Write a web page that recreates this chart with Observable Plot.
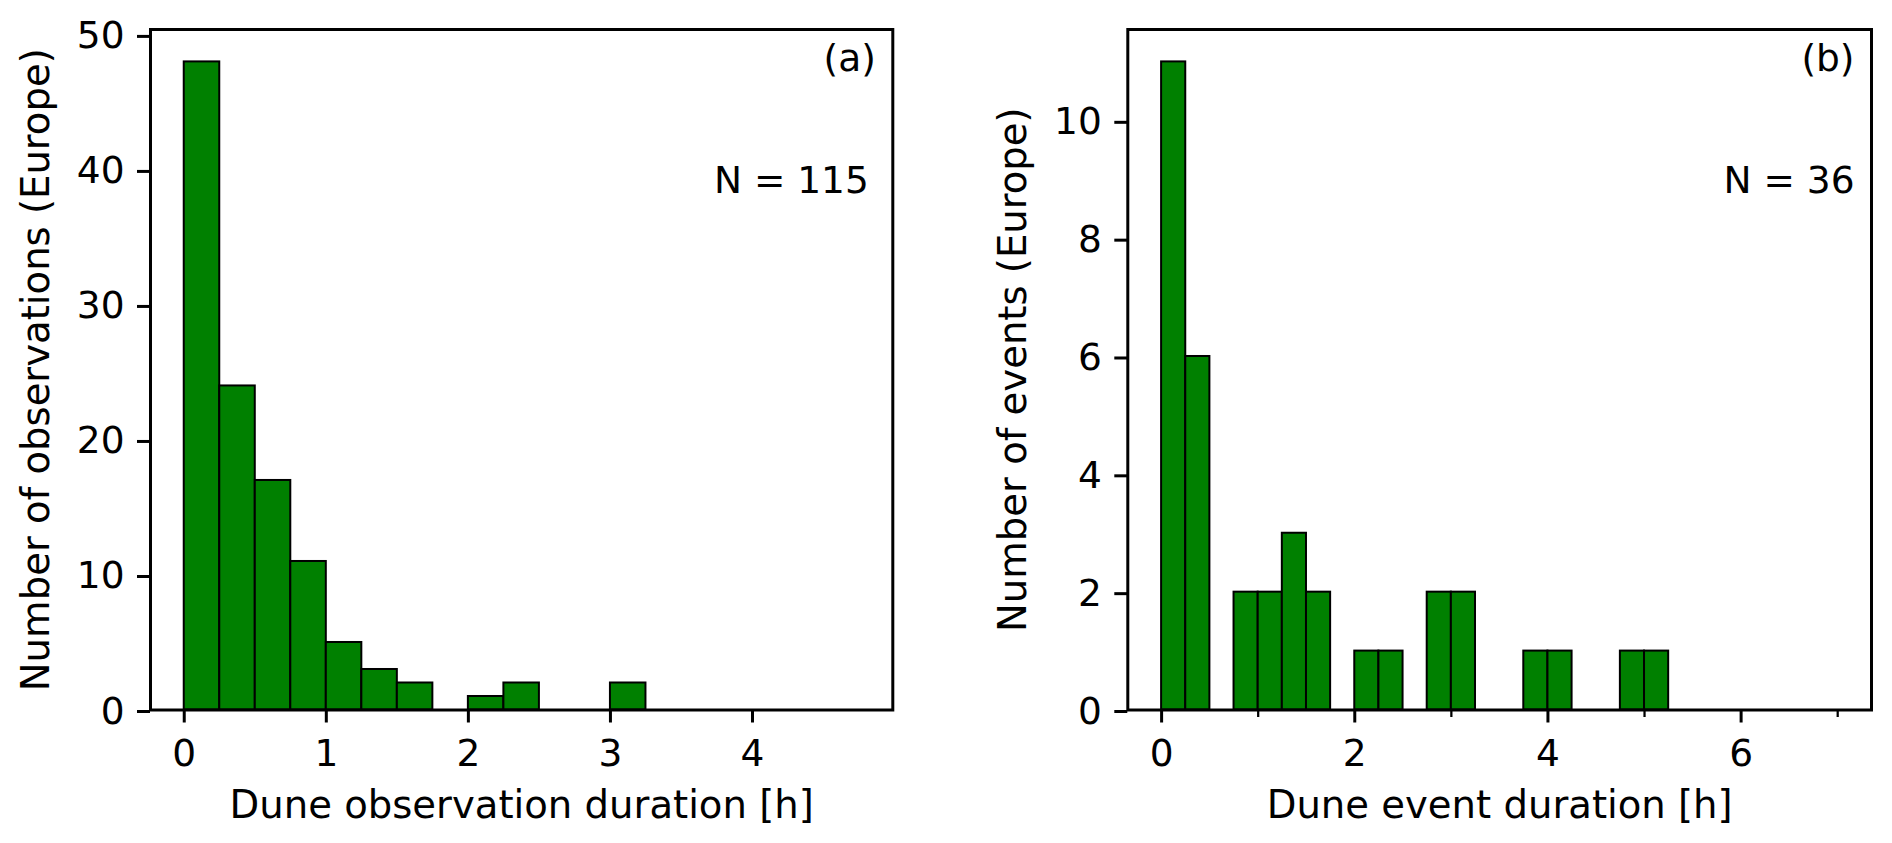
<!DOCTYPE html>
<html>
<head>
<meta charset="utf-8">
<script src="https://cdn.jsdelivr.net/npm/d3@7"></script>
<script src="https://cdn.jsdelivr.net/npm/@observablehq/plot@0.6"></script>
<style>
  html, body { margin: 0; padding: 0; background: #ffffff; }
  #wrap { display: flex; width: 1892px; height: 843px; }
  #wrap > div { width: 946px; height: 843px; }
</style>
</head>
<body>
<div id="wrap"><div id="pa"></div><div id="pb"></div></div>
<script>
// ---- Data ----
const binWidth = 0.25;

// Panel (a): dune observation duration
const binStartsA = [0, 0.25, 0.5, 0.75, 1.0, 1.25, 1.5, 1.75, 2.0, 2.25, 2.5, 2.75, 3.0];
const countsA    = [48, 24,   17,  11,   5,   3,    2,   0,    1,   2,    0,   0,    2];
const xTicksA = [0, 1, 2, 3, 4];
const yTicksA = [0, 10, 20, 30, 40, 50];
const xDomainA = [-0.2375, 4.9875];
const yDomainA = [0, 50.4];
const xLabelA = "Dune observation duration [h]";
const yLabelA = "Number of observations (Europe)";
const tagA = "(a)";
const nA = "N = 115";

// Panel (b): dune event duration
const binStartsB = [0, 0.25, 0.5, 0.75, 1.0, 1.25, 1.5, 1.75, 2.0, 2.25, 2.5, 2.75, 3.0, 3.25, 3.5, 3.75, 4.0, 4.25, 4.5, 4.75, 5.0];
const countsB    = [11, 6,   0,   2,    2,   3,    2,   0,    1,   1,    0,   2,    2,   0,    0,   1,    1,   0,    0,   1,    1];
const xTicksB = [0, 2, 4, 6];
const xMinorTicksB = [1, 3, 5, 7];
const yTicksB = [0, 2, 4, 6, 8, 10];
const xDomainB = [-0.35, 7.35];
const yDomainB = [0, 11.55];
const xLabelB = "Dune event duration [h]";
const yLabelB = "Number of events (Europe)";
const tagB = "(b)";
const nB = "N = 36";

const FONT = "DejaVu Sans";
const FS = 37.5;
const FS_TITLE = 38.6;

function panel({binStarts, counts, xTicks, xMinor, yTicks, xDomain, yDomain, xLabel, yLabel, tag, nText, marginLeft, marginRight, tagDx, nDx}) {
  const bars = binStarts.map((b, i) => ({x1: b, x2: b + binWidth, count: counts[i]})).filter(d => d.count > 0);
  const marks = [
    Plot.rectY(bars, {x1: "x1", x2: "x2", y1: 0, y2: "count", fill: "#008000", stroke: "#000000", strokeWidth: 2}),
    Plot.axisX(xTicks, {tickSize: 13, tickPadding: 16, strokeWidth: 3, fontSize: FS, tickFormat: d => String(d), label: null}),
    Plot.axisY(yTicks, {tickSize: 13, tickPadding: 13, strokeWidth: 3, fontSize: FS, tickFormat: d => String(d), label: null, dy: 1.5}),
    Plot.text([xLabel], {text: d => d, frameAnchor: "bottom", dy: 108, textAnchor: "middle", lineAnchor: "bottom", fontSize: FS_TITLE}),
    Plot.text([yLabel], {text: d => d, frameAnchor: "left", rotate: -90, dx: -129, textAnchor: "middle", lineAnchor: "top", fontSize: FS_TITLE}),
    Plot.text([tag], {text: d => d, frameAnchor: "top-right", dx: tagDx, dy: 29, textAnchor: "end", lineAnchor: "middle", fontSize: FS}),
    Plot.text([nText], {text: d => d, frameAnchor: "top-right", dx: nDx, dy: 151, textAnchor: "end", lineAnchor: "middle", fontSize: FS}),
    Plot.frame({stroke: "#000000", strokeWidth: 3})
  ];
  if (xMinor) {
    marks.push(Plot.axisX(xMinor, {tickSize: 7.5, tickPadding: 0, strokeWidth: 2.25, tickFormat: () => "", label: null}));
  }
  return Plot.plot({
    width: 946,
    height: 843,
    marginTop: 29,
    marginBottom: 133.5,
    marginLeft,
    marginRight,
    style: {fontFamily: FONT, fontSize: FS + "px", color: "#000000", background: "#ffffff", overflow: "visible"},
    x: {domain: xDomain, nice: false},
    y: {domain: yDomain, nice: false},
    marks
  });
}

document.getElementById("pa").append(panel({
  binStarts: binStartsA, counts: countsA, xTicks: xTicksA, xMinor: null, yTicks: yTicksA,
  xDomain: xDomainA, yDomain: yDomainA, xLabel: xLabelA, yLabel: yLabelA, tag: tagA, nText: nA,
  marginLeft: 150, marginRight: 53.7, tagDx: -17, nDx: -24
}));
document.getElementById("pb").append(panel({
  binStarts: binStartsB, counts: countsB, xTicks: xTicksB, xMinor: xMinorTicksB, yTicks: yTicksB,
  xDomain: xDomainB, yDomain: yDomainB, xLabel: xLabelB, yLabel: yLabelB, tag: tagB, nText: nB,
  marginLeft: 181.3, marginRight: 21, tagDx: -17, nDx: -17
}));
</script>
</body>
</html>
